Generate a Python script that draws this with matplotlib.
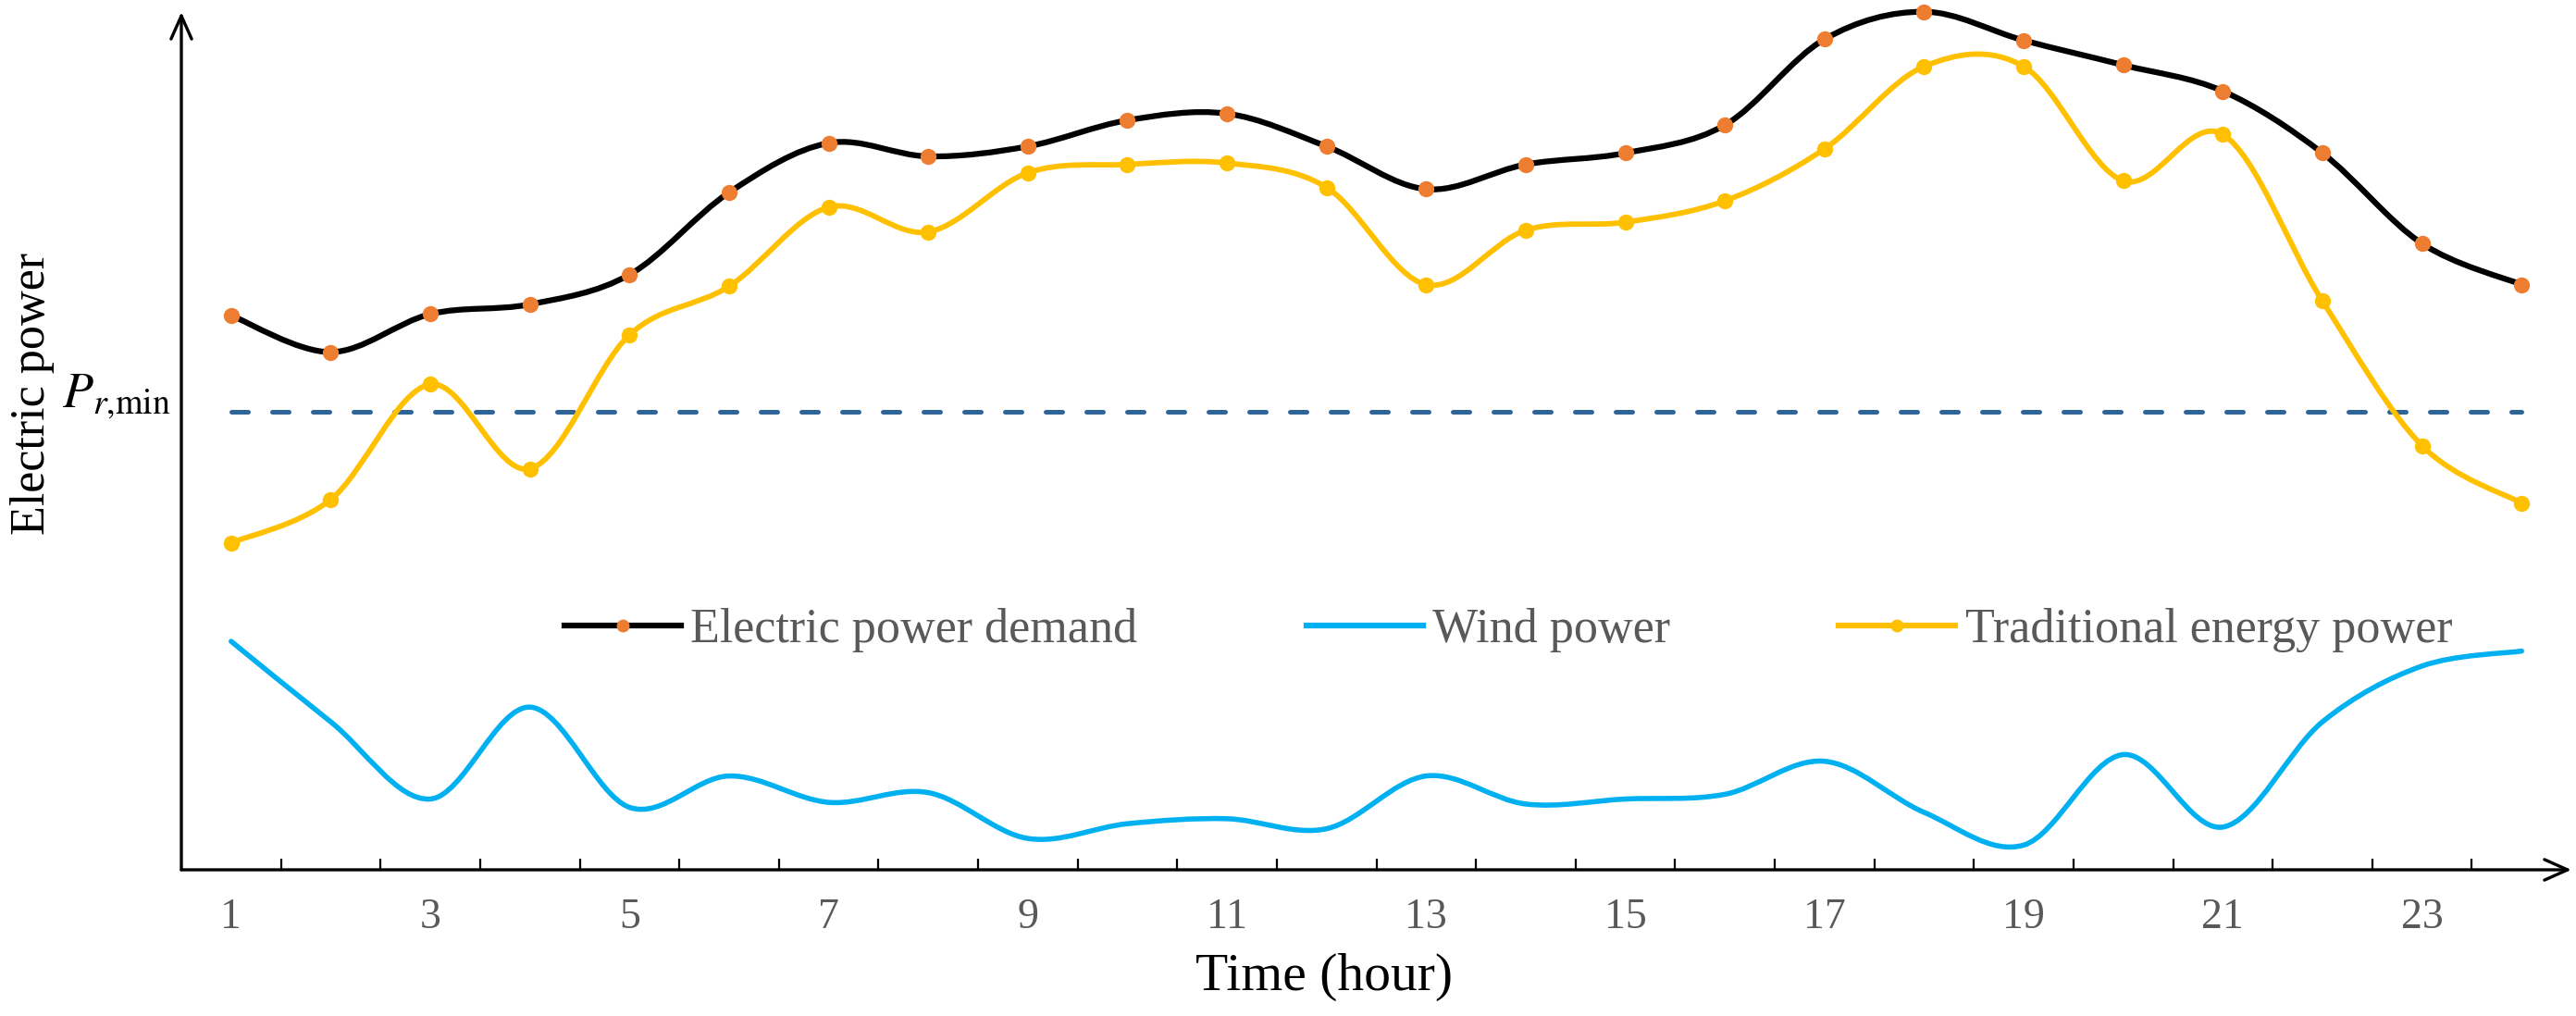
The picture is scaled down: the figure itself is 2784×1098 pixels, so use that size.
import matplotlib
matplotlib.use("Agg")
import matplotlib.pyplot as plt
import numpy as np
from matplotlib.lines import Line2D
from matplotlib.patches import PathPatch
from matplotlib.path import Path

# hourly values (arbitrary power units, 0 = time axis)
hours = np.arange(1, 25)
demand = [199.7, 186.5, 200.2, 203.7, 214.4, 244.0, 261.8, 257.0, 260.6, 270.0, 272.4, 260.6,
          245.2, 254.1, 258.2, 268.3, 299.2, 309.1, 298.8, 289.9, 280.5, 258.2, 225.6, 210.8]
traditional = [117.8, 133.4, 174.9, 144.5, 192.7, 210.2, 238.7, 229.8, 251.1, 254.1, 254.6, 245.8,
               210.8, 230.4, 233.3, 241.0, 259.7, 289.4, 289.4, 248.2, 264.9, 204.9, 152.8, 132.1]
wind = [82.3, 53.3, 25.5, 58.6, 22.5, 33.8, 24.3, 27.8, 11.3, 16.6, 18.4, 14.8,
        33.8, 23.7, 25.5, 27.2, 39.1, 20.7, 8.9, 41.5, 15.4, 53.3, 73.4, 78.8]
p_r_min = 165.0
tick_hours = list(range(1, 24, 2))
labels = ["Electric power demand", "Wind power", "Traditional energy power"]

BLACK = "#000000"
ORANGE = "#ED7D31"
YELLOW = "#FFC000"
BLUE = "#00B0F0"
DASH = "#2E6496"
GREY = "#595959"


def smooth_path(x, y):
    # Catmull-Rom style bezier, like a spreadsheet "smoothed line"
    pts = np.column_stack([x, y]).astype(float)
    n = len(pts)
    verts = [pts[0]]
    codes = [Path.MOVETO]
    for i in range(n - 1):
        p0 = pts[i - 1] if i > 0 else pts[i]
        p1, p2 = pts[i], pts[i + 1]
        p3 = pts[i + 2] if i + 2 < n else pts[i + 1]
        verts += [p1 + (p2 - p0) / 6, p2 - (p3 - p1) / 6, p2]
        codes += [Path.CURVE4] * 3
    return Path(verts, codes)


plt.rcParams["font.family"] = ["Liberation Serif", "DejaVu Serif"]
plt.rcParams["mathtext.fontset"] = "stix"

fig = plt.figure(figsize=(27.84, 10.98), dpi=100)
ax = fig.add_axes([196 / 2784, 158 / 1098, (2779 - 196) / 2784, (940 - 13) / 1098])

ax.plot([1, 24], [p_r_min, p_r_min], color=DASH, lw=3.6, dashes=(3.6, 5.2),
        dash_capstyle="round", zorder=1)

for vals, color, lw in [(wind, BLUE, 4.0), (traditional, YELLOW, 4.2), (demand, BLACK, 4.5)]:
    patch = PathPatch(smooth_path(hours, vals), fill=False, edgecolor=color, lw=lw,
                      capstyle="round", joinstyle="round", zorder=2, clip_on=False)
    ax.add_patch(patch)

ax.plot(hours, traditional, "o", color=YELLOW, ms=12.5, mew=0, zorder=3, clip_on=False)
ax.plot(hours, demand, "o", color=ORANGE, ms=12.5, mew=0, zorder=3, clip_on=False)

ax.set_xlim(0.5, 24.5)
ax.set_ylim(0, 309)

for s in ax.spines.values():
    s.set_visible(False)
ax.annotate("", xy=(1, 0), xytext=(0, 0), xycoords="axes fraction",
            arrowprops=dict(arrowstyle="->,head_length=0.9,head_width=0.4", lw=2.4,
                            color=BLACK, shrinkA=0, shrinkB=0, mutation_scale=20))
ax.annotate("", xy=(0, 1), xytext=(0, 0), xycoords="axes fraction",
            arrowprops=dict(arrowstyle="->,head_length=0.9,head_width=0.4", lw=2.4,
                            color=BLACK, shrinkA=0, shrinkB=0, mutation_scale=20))

ax.set_yticks([])
ax.set_xticks(tick_hours)
ax.set_xticklabels([str(h) for h in tick_hours])
ax.set_xticks(np.arange(1.5, 24, 1), minor=True)
ax.tick_params(axis="x", which="major", length=0, pad=22, labelsize=33, labelcolor=GREY)
ax.tick_params(axis="x", which="minor", direction="in", length=8.6, width=1.6, color=BLACK)

ax.text(-0.0043, p_r_min + 1.7, r"$P_{r{,}\mathrm{min}}$", transform=ax.get_yaxis_transform(),
        ha="right", va="baseline", fontsize=39)

fig.text(48 / 2784, 1 - 425 / 1098, "Electric power", rotation=90, rotation_mode="anchor",
         ha="center", va="baseline", fontsize=37.5)
fig.text(1431 / 2784, 1 - 1070 / 1098, "Time (hour)", ha="center", va="baseline", fontsize=41.5)

handles = [
    Line2D([], [], color=BLACK, lw=4.5, marker="o", ms=9, mfc=ORANGE, mec=ORANGE),
    Line2D([], [], color=BLUE, lw=4.5),
    Line2D([], [], color=YELLOW, lw=4.5, marker="o", ms=9, mfc=YELLOW, mec=YELLOW),
]
ax.legend(handles, labels, loc="center", bbox_to_anchor=(0.5552, 0.2794), ncol=3,
          frameon=False, fontsize=37.5, handlelength=2.42, handletextpad=0.2,
          columnspacing=3.5, labelcolor=GREY, numpoints=1, borderpad=0)

fig.savefig("out.png", dpi=100)
